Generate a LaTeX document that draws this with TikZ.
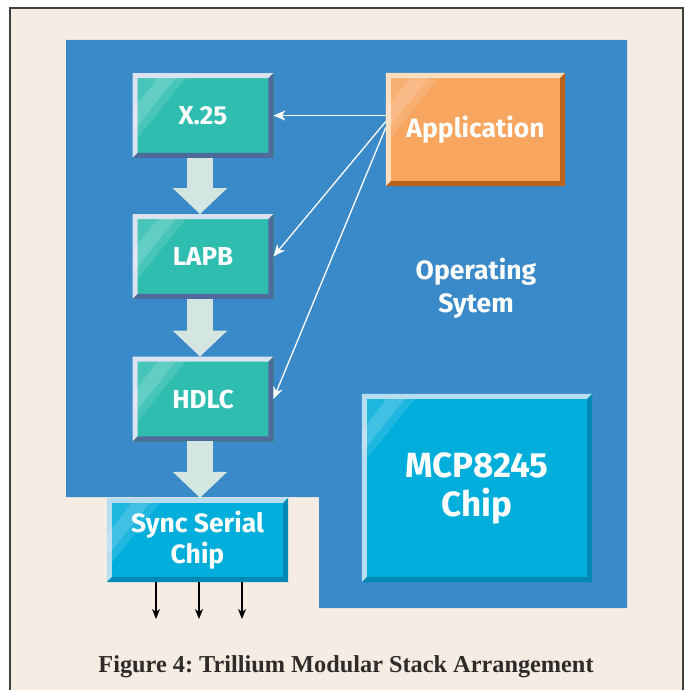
\documentclass[tikz,border=0pt]{standalone}
\usepackage{fontspec}
\setmainfont{Liberation Serif}
\setsansfont{Fira Sans}
\usepackage{xcolor}
\usetikzlibrary{arrows.meta}

\definecolor{paper}{HTML}{F5EDE3}
\definecolor{osblue}{HTML}{3A89C9}
\definecolor{boxteal}{HTML}{2EBDAF}
\definecolor{tealhi}{HTML}{D9E3F0}
\definecolor{teallo}{HTML}{4F6B9B}
\definecolor{boxorange}{HTML}{F8A55F}
\definecolor{orangehi}{HTML}{FCDDBE}
\definecolor{orangelo}{HTML}{B8621B}
\definecolor{boxcyan}{HTML}{00AEDB}
\definecolor{cyanhi}{HTML}{B7DDF0}
\definecolor{cyanlo}{HTML}{0088B4}
\definecolor{arrowpale}{HTML}{D4E6E1}
\definecolor{captext}{HTML}{2E2B2A}

\begin{document}
\frenchspacing
\begin{tikzpicture}[
    x=1pt, y=-1pt,
    box/.style={rectangle, text=white, align=center, inner sep=0pt, font=\sffamily\bfseries\fontsize{26}{31}\selectfont},
    tealbox/.style={box, fill=boxteal, draw=boxteal!80!black, line width=0.8pt, minimum width=140pt, minimum height=84pt},
    orangebox/.style={box, fill=boxorange, minimum width=179pt, minimum height=113pt, font=\sffamily\bfseries\fontsize{26.5}{30}\selectfont},
    cyanbox/.style={box, fill=boxcyan, font=\sffamily\bfseries\fontsize{26.5}{31}\selectfont},
    blockarrow/.style={draw=arrowpale, line width=26pt, -{Triangle[width=53pt,length=26pt]}},
    wirearrow/.style={draw=white, line width=1.3pt, -{Stealth[length=12pt,width=10pt,inset=3.5pt]}},
    outarrow/.style={draw=black, line width=1.4pt, -{Stealth[length=10pt,width=8pt,inset=3pt]}},
    oslabel/.style={text=white, align=center, font=\sffamily\bfseries\fontsize{26.5}{33}\selectfont},
    caption/.style={text=captext, font=\bfseries\fontsize{24.3}{28}\selectfont}
]

% Page, frame and operating system area
\useasboundingbox (0,0) rectangle (686,690);
\fill[white] (0,0) rectangle (686,690);
\fill[paper, draw=black!75, line width=1.2pt] (10,8) rectangle (683,700);
\fill[osblue] (66,40) -- (627,40) -- (627,608) -- (319,608) -- (319,497) -- (66,497) -- cycle;

% Protocol stack
\node[tealbox] (x25) at (203,115.5) {X.25};
\node[tealbox] (lapb) at (203,256.5) {LAPB};
\node[tealbox] (hdlc) at (203,399) {HDLC};

% Application and chips
\node[orangebox] (app) at (475.5,129.5) {Application};
\node[cyanbox, minimum width=181pt, minimum height=84pt] (sync) at (197.5,540) {Sync Serial\\Chip};
\node[cyanbox, minimum width=230pt, minimum height=188pt, font=\sffamily\bfseries\fontsize{35}{39}\selectfont] (mcp) at (477,488) {MCP8245\\Chip};

\node[oslabel] (os) at (476,288.5) {Operating\\Sytem};

% Bevels and gloss
\foreach \n/\lt/\dk in {x25/tealhi/teallo, lapb/tealhi/teallo, hdlc/tealhi/teallo, app/orangehi/orangelo, sync/cyanhi/cyanlo, mcp/cyanhi/cyanlo} {
  \fill[\lt] (\n.north west) -- (\n.north east) -- ([shift={(-5pt,-5pt)}]\n.north east)
    -- ([shift={(5pt,-5pt)}]\n.north west) -- ([shift={(5pt,5pt)}]\n.south west) -- (\n.south west) -- cycle;
  \fill[\dk] (\n.south east) -- (\n.north east) -- ([shift={(-5pt,-5pt)}]\n.north east)
    -- ([shift={(-5pt,5pt)}]\n.south east) -- ([shift={(5pt,5pt)}]\n.south west) -- (\n.south west) -- cycle;
  \fill[white, opacity=0.12] ([shift={(5pt,-5pt)}]\n.north west) -- ++(48pt,0pt) -- ++(-48pt,-60pt) -- cycle;
  \fill[white, opacity=0.15] ([shift={(25pt,-5pt)}]\n.north west) -- ++(18pt,0pt) -- ++(-43pt,-54pt) -- ++(0pt,22pt) -- cycle;
}

% Data path
\draw[blockarrow] ([xshift=-3pt]x25.south) -- ([xshift=-3pt]lapb.north);
\draw[blockarrow] ([xshift=-3pt]lapb.south) -- ([xshift=-3pt]hdlc.north);
\draw[blockarrow] ([xshift=-3pt]hdlc.south) -- ([xshift=-3pt]hdlc.south |- sync.north);

% Application calls
\draw[wirearrow] (app.west |- x25.east) -- (x25.east);
\draw[wirearrow] ([yshift=8pt]app.west) -- (lapb.east);
\draw[wirearrow] ([yshift=2pt]app.west) -- (hdlc.east);

% Serial lines
\coordinate (line1) at (156,619);
\coordinate (line2) at (199,619);
\coordinate (line3) at (242,619);
\foreach \c in {line1, line2, line3}
  \draw[outarrow] (\c |- sync.south) -- (\c);

\node[caption] (cap) at (346,667) {Figure 4: Trillium Modular Stack Arrangement};

\end{tikzpicture}
\end{document}
